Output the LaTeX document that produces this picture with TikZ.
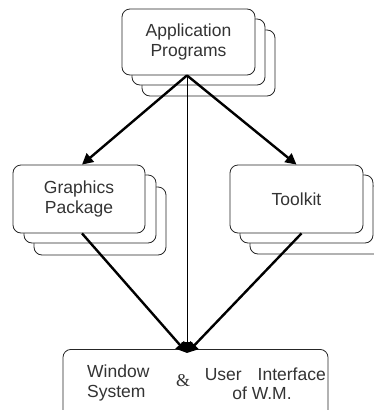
\documentclass[tikz,border=0pt]{standalone}
\usepackage{fontspec}
\setmainfont{Liberation Sans}
\newfontfamily\serifamp{Liberation Serif}
\usetikzlibrary{arrows.meta}
\begin{document}
\begin{tikzpicture}[x=1pt,y=-1pt,
  card/.style={draw=black!85, line width=0.8pt, rounded corners=8pt, fill=white,
    inner sep=0pt, text=black!80, font=\fontsize{17.5}{20}\selectfont, align=center},
  lbl/.style={text=black!80, font=\fontsize{17.5}{20}\selectfont, inner sep=0pt},
  thick arrow/.style={line width=2.4pt, -{Triangle[length=11pt,width=11pt]}},
  thin arrow/.style={line width=0.9pt, -{Triangle[length=11pt,width=11pt]}}]
\useasboundingbox (0,0) rectangle (374,410);
\clip (0,0) rectangle (374,410);
% Application Programs stack
\node[card, minimum width=133pt, minimum height=66pt] (app3) at (208.5,63) {};
\node[card, minimum width=133pt, minimum height=66pt] (app2) at (198.5,52) {};
\node[card, minimum width=133pt, minimum height=66pt] (app) at (188.5,42) {Application\\Programs};
% Graphics Package stack
\node[card, minimum width=132pt, minimum height=68pt] (gp3) at (100,221) {};
\node[card, minimum width=132pt, minimum height=68pt] (gp2) at (90,209) {};
\node[card, minimum width=132pt, minimum height=68pt] (gp) at (79,199) {Graphics\\Package};
% Toolkit stack
\node[card, minimum width=133pt, minimum height=68pt] (tk3) at (316.5,220) {};
\node[card, minimum width=133pt, minimum height=68pt] (tk2) at (306.5,209) {};
\node[card, minimum width=133pt, minimum height=68pt] (tk) at (296.5,199) {Toolkit};
% Window System box
\node[card, minimum width=265pt, minimum height=80pt, anchor=north] (ws) at (195.5,349) {};
\node[lbl, align=left, anchor=west] (wsa) at (87,383) {Window\\System};
\node[lbl, font=\serifamp\fontsize{18}{20}\selectfont] (amp) at (183,381) {\&};
\node[lbl, anchor=east] (uia) at (326,374) {User\hspace{16pt}Interface};
\node[lbl] (uib) at (262,393) {of W.M.};
% connectors
\coordinate (hub) at ([xshift=-8.5pt,yshift=-4pt]ws.north);
\draw[thick arrow] ([xshift=-1.5pt]app.south) -- ([xshift=3pt]gp.north);
\draw[thick arrow] ([xshift=-1.5pt]app.south) -- (tk.north);
\draw[thin arrow] ([xshift=-1.5pt]app.south) -- (hub);
\draw[thick arrow] ([xshift=3pt]gp.south) -- (hub);
\draw[thick arrow] ([xshift=5pt]tk.south) -- (hub);
\end{tikzpicture}
\end{document}
